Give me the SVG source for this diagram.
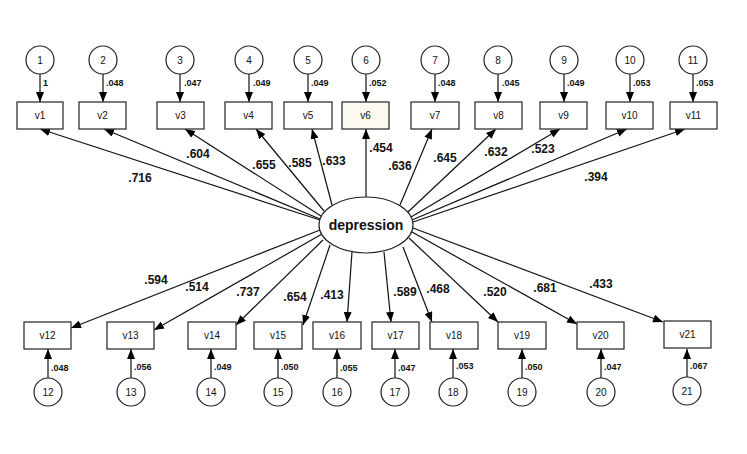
<svg xmlns="http://www.w3.org/2000/svg" width="747" height="454" viewBox="0 0 747 454">
<style>
.box{fill:#fff;stroke:#333;stroke-width:1.3}
.err{fill:#fff;stroke:#222;stroke-width:1.2}
.lat{fill:#fff;stroke:#222;stroke-width:1.2}
.ln{stroke:#111;stroke-width:1.2;fill:none;marker-end:url(#ah)}
.t{font-family:"Liberation Sans",Arial,sans-serif;font-size:10px;fill:#111;text-anchor:middle}
.w{font-family:"Liberation Sans",Arial,sans-serif;font-size:12px;font-weight:bold;fill:#111;text-anchor:middle}
.v{font-family:"Liberation Sans",Arial,sans-serif;font-size:9px;font-weight:bold;fill:#111}
.d{font-family:"Liberation Sans",Arial,sans-serif;font-size:14px;font-weight:bold;fill:#111;text-anchor:middle}
</style>
<defs>
<marker id="ah" viewBox="0 0 10 8" refX="10" refY="4" markerWidth="10" markerHeight="8" markerUnits="userSpaceOnUse" orient="auto"><path d="M0,0 L10,4 L0,8 z" fill="#000"/></marker>
</defs>
<rect width="747" height="454" fill="#fff"/>
<g id="connectors">
<line class="ln" x1="40" y1="74" x2="40" y2="102"/>
<line class="ln" x1="103" y1="74" x2="103" y2="102"/>
<line class="ln" x1="180" y1="74" x2="180" y2="102"/>
<line class="ln" x1="249" y1="74" x2="249" y2="102"/>
<line class="ln" x1="308" y1="74" x2="308" y2="102"/>
<line class="ln" x1="366" y1="74" x2="366" y2="102"/>
<line class="ln" x1="435" y1="74" x2="435" y2="102"/>
<line class="ln" x1="498" y1="74" x2="498" y2="102"/>
<line class="ln" x1="564" y1="74" x2="564" y2="102"/>
<line class="ln" x1="630" y1="74" x2="630" y2="102"/>
<line class="ln" x1="693" y1="74" x2="693" y2="102"/>
<line class="ln" x1="48" y1="378" x2="48" y2="349"/>
<line class="ln" x1="131" y1="378" x2="131" y2="349"/>
<line class="ln" x1="211" y1="378" x2="211" y2="349"/>
<line class="ln" x1="278" y1="378" x2="278" y2="349"/>
<line class="ln" x1="337" y1="378" x2="337" y2="349"/>
<line class="ln" x1="395" y1="378" x2="395" y2="349"/>
<line class="ln" x1="453" y1="378" x2="453" y2="349"/>
<line class="ln" x1="522" y1="378" x2="522" y2="349"/>
<line class="ln" x1="601" y1="378" x2="601" y2="349"/>
<line class="ln" x1="687" y1="378" x2="687" y2="349"/>
<line class="ln" x1="320" y1="220" x2="40" y2="129"/>
<line class="ln" x1="320" y1="219" x2="104" y2="129"/>
<line class="ln" x1="321" y1="216" x2="185" y2="129"/>
<line class="ln" x1="324" y1="211" x2="256" y2="129"/>
<line class="ln" x1="332" y1="205" x2="312" y2="129"/>
<line class="ln" x1="366" y1="197" x2="366" y2="129"/>
<line class="ln" x1="400" y1="205" x2="432" y2="129"/>
<line class="ln" x1="408" y1="212" x2="496" y2="129"/>
<line class="ln" x1="411" y1="217" x2="560" y2="129"/>
<line class="ln" x1="412" y1="220" x2="627" y2="129"/>
<line class="ln" x1="413" y1="222" x2="685" y2="129"/>
<line class="ln" x1="320" y1="230" x2="71" y2="328"/>
<line class="ln" x1="322" y1="234" x2="154" y2="330"/>
<line class="ln" x1="323" y1="240" x2="236" y2="325"/>
<line class="ln" x1="330" y1="245" x2="303" y2="325"/>
<line class="ln" x1="352" y1="252" x2="347" y2="322"/>
<line class="ln" x1="384" y1="252" x2="391" y2="322"/>
<line class="ln" x1="403" y1="247" x2="432" y2="322"/>
<line class="ln" x1="409" y1="238" x2="498" y2="322"/>
<line class="ln" x1="412" y1="232" x2="577" y2="324"/>
<line class="ln" x1="413" y1="228" x2="663" y2="322"/>
</g>
<g id="weights">
<text class="w" x="140" y="182">.716</text>
<text class="w" x="198" y="158">.604</text>
<text class="w" x="264" y="169">.655</text>
<text class="w" x="300" y="167">.585</text>
<text class="w" x="334" y="165">.633</text>
<text class="w" x="381" y="152">.454</text>
<text class="w" x="400" y="170">.636</text>
<text class="w" x="445" y="162">.645</text>
<text class="w" x="496" y="156">.632</text>
<text class="w" x="543" y="153">.523</text>
<text class="w" x="596" y="181">.394</text>
<text class="w" x="156" y="284">.594</text>
<text class="w" x="197" y="291">.514</text>
<text class="w" x="248" y="296">.737</text>
<text class="w" x="295" y="301">.654</text>
<text class="w" x="332" y="299">.413</text>
<text class="w" x="405" y="296">.589</text>
<text class="w" x="438" y="293">.468</text>
<text class="w" x="495" y="296">.520</text>
<text class="w" x="545" y="292">.681</text>
<text class="w" x="601" y="288">.433</text>
</g>
<g id="depression"><ellipse class="lat" cx="366" cy="225" rx="47" ry="28"/><text class="d" x="366" y="230">depression</text></g>
<g id="e1"><circle class="err" cx="40" cy="60" r="14"/><text class="t" x="40" y="64">1</text><text class="v" x="43" y="86">1</text></g>
<g id="e2"><circle class="err" cx="103" cy="60" r="14"/><text class="t" x="103" y="64">2</text><text class="v" x="106" y="86">.048</text></g>
<g id="e3"><circle class="err" cx="180" cy="60" r="14"/><text class="t" x="180" y="64">3</text><text class="v" x="184" y="86">.047</text></g>
<g id="e4"><circle class="err" cx="249" cy="60" r="14"/><text class="t" x="249" y="64">4</text><text class="v" x="253" y="86">.049</text></g>
<g id="e5"><circle class="err" cx="308" cy="60" r="14"/><text class="t" x="308" y="64">5</text><text class="v" x="311" y="86">.049</text></g>
<g id="e6"><circle class="err" cx="366" cy="60" r="14"/><text class="t" x="366" y="64">6</text><text class="v" x="369" y="86">.052</text></g>
<g id="e7"><circle class="err" cx="435" cy="60" r="14"/><text class="t" x="435" y="64">7</text><text class="v" x="438" y="86">.048</text></g>
<g id="e8"><circle class="err" cx="498" cy="60" r="14"/><text class="t" x="498" y="64">8</text><text class="v" x="502" y="86">.045</text></g>
<g id="e9"><circle class="err" cx="564" cy="60" r="14"/><text class="t" x="564" y="64">9</text><text class="v" x="567" y="86">.049</text></g>
<g id="e10"><circle class="err" cx="630" cy="60" r="14"/><text class="t" x="630" y="64">10</text><text class="v" x="633" y="86">.053</text></g>
<g id="e11"><circle class="err" cx="693" cy="60" r="14"/><text class="t" x="693" y="64">11</text><text class="v" x="696" y="86">.053</text></g>
<g id="n1"><rect class="box" x="17" y="102" width="46" height="27"/><text class="t" x="40" y="119">v1</text></g>
<g id="n2"><rect class="box" x="79" y="102" width="47" height="27"/><text class="t" x="102.5" y="119">v2</text></g>
<g id="n3"><rect class="box" x="157" y="102" width="47" height="27"/><text class="t" x="180.5" y="119">v3</text></g>
<g id="n4"><rect class="box" x="225" y="102" width="47" height="27"/><text class="t" x="248.5" y="119">v4</text></g>
<g id="n5"><rect class="box" x="284" y="102" width="48" height="27"/><text class="t" x="308" y="119">v5</text></g>
<g id="n6"><rect class="box" x="342" y="102" width="47" height="27" style="fill:#fcf9f1"/><text class="t" x="365.5" y="119">v6</text></g>
<g id="n7"><rect class="box" x="411" y="102" width="48" height="27"/><text class="t" x="435" y="119">v7</text></g>
<g id="n8"><rect class="box" x="475" y="102" width="47" height="27"/><text class="t" x="498.5" y="119">v8</text></g>
<g id="n9"><rect class="box" x="540" y="102" width="47" height="27"/><text class="t" x="563.5" y="119">v9</text></g>
<g id="n10"><rect class="box" x="606" y="102" width="47" height="27"/><text class="t" x="629.5" y="119">v10</text></g>
<g id="n11"><rect class="box" x="670" y="102" width="47" height="27"/><text class="t" x="693.5" y="119">v11</text></g>
<g id="n12"><rect class="box" x="24" y="322" width="47" height="27"/><text class="t" x="47.5" y="339">v12</text></g>
<g id="n13"><rect class="box" x="107" y="322" width="47" height="27"/><text class="t" x="130.5" y="339">v13</text></g>
<g id="n14"><rect class="box" x="188" y="322" width="48" height="27"/><text class="t" x="212" y="339">v14</text></g>
<g id="n15"><rect class="box" x="254" y="322" width="48" height="27"/><text class="t" x="278" y="339">v15</text></g>
<g id="n16"><rect class="box" x="313" y="322" width="48" height="27"/><text class="t" x="337" y="339">v16</text></g>
<g id="n17"><rect class="box" x="372" y="322" width="47" height="27"/><text class="t" x="395.5" y="339">v17</text></g>
<g id="n18"><rect class="box" x="430" y="322" width="48" height="27"/><text class="t" x="454" y="339">v18</text></g>
<g id="n19"><rect class="box" x="498" y="322" width="48" height="27"/><text class="t" x="522" y="339">v19</text></g>
<g id="n20"><rect class="box" x="577" y="322" width="47" height="27"/><text class="t" x="600.5" y="339">v20</text></g>
<g id="n21"><rect class="box" x="664" y="321" width="47" height="27"/><text class="t" x="687.5" y="338">v21</text></g>
<g id="e12"><circle class="err" cx="48" cy="392" r="14"/><text class="t" x="48" y="396">12</text><text class="v" x="51" y="371">.048</text></g>
<g id="e13"><circle class="err" cx="131" cy="392" r="14"/><text class="t" x="131" y="396">13</text><text class="v" x="134" y="370">.056</text></g>
<g id="e14"><circle class="err" cx="211" cy="392" r="14"/><text class="t" x="211" y="396">14</text><text class="v" x="214" y="370">.049</text></g>
<g id="e15"><circle class="err" cx="278" cy="392" r="14"/><text class="t" x="278" y="396">15</text><text class="v" x="281" y="370">.050</text></g>
<g id="e16"><circle class="err" cx="337" cy="392" r="14"/><text class="t" x="337" y="396">16</text><text class="v" x="340" y="371">.055</text></g>
<g id="e17"><circle class="err" cx="395" cy="392" r="14"/><text class="t" x="395" y="396">17</text><text class="v" x="398" y="371">.047</text></g>
<g id="e18"><circle class="err" cx="453" cy="392" r="14"/><text class="t" x="453" y="396">18</text><text class="v" x="456" y="369">.053</text></g>
<g id="e19"><circle class="err" cx="522" cy="392" r="14"/><text class="t" x="522" y="396">19</text><text class="v" x="525" y="370">.050</text></g>
<g id="e20"><circle class="err" cx="601" cy="392" r="14"/><text class="t" x="601" y="396">20</text><text class="v" x="604" y="370">.047</text></g>
<g id="e21"><circle class="err" cx="687" cy="391" r="14"/><text class="t" x="687" y="395">21</text><text class="v" x="690" y="369">.067</text></g>
</svg>
